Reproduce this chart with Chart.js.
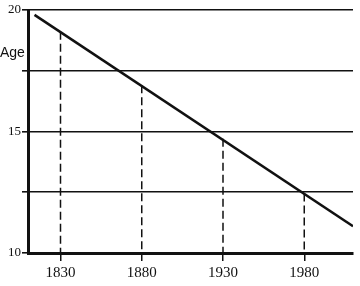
<!DOCTYPE html>
<html>
<head>
<meta charset="utf-8">
<script src="https://cdn.jsdelivr.net/npm/chart.js@4/dist/chart.umd.min.js"></script>
<style>
  html, body { margin: 0; padding: 0; background: #fff; }
  #wrap { position: relative; width: 360px; height: 286px; }
  #age { position: absolute; left: 0px; top: 44px; font: 14px "Liberation Sans", Arial, sans-serif; color: #111; }
</style>
</head>
<body>
<div id="wrap">
  <canvas id="c" width="360" height="286"></canvas>
  <div id="age">Age</div>
</div>
<script>
// Trend line endpoints
const lineYears = [1814, 2010];
const lineAges = [19.8, 11.1];
// Marked years and the age
const markYears = [1830, 1880, 1930, 1980];
const markAges = [19.1, 16.9, 14.7, 12.45];
// Axis settings
const yMin = 10, yMax = 20, yStep = 2.5;
const yLabelled = [10, 15, 20];
const xMin = 1810, xMax = 2010;

const datasets = [];
datasets.push({
  data: lineYears.map((x, i) => ({ x, y: lineAges[i] })),
  borderColor: '#111', borderWidth: 2.5, pointRadius: 0, showLine: true
});
markYears.forEach((yr, i) => {
  datasets.push({
    data: [{ x: yr, y: markAges[i] }, { x: yr, y: yMin }],
    borderColor: '#111', borderWidth: 1.5, borderDash: [8, 4],
    pointRadius: 0, showLine: true
  });
});

new Chart(document.getElementById('c'), {
  type: 'scatter',
  data: { datasets },
  options: {
    responsive: false,
    animation: false,
    layout: { padding: { top: 10, right: 7, left: 0, bottom: 0 } },
    plugins: { legend: { display: false }, tooltip: { enabled: false } },
    scales: {
      x: {
        type: 'linear', min: xMin, max: xMax,
        afterBuildTicks: s => { s.ticks = markYears.map(v => ({ value: v })); },
        afterFit: s => { s.height = 33; },
        border: { display: true, color: '#111', width: 3 },
        grid: { drawOnChartArea: false, drawTicks: true, tickLength: 8, color: '#111', lineWidth: 1.5 },
        ticks: { color: '#111', padding: 3, font: { family: '"Liberation Serif", "DejaVu Serif", serif', size: 15 }, maxRotation: 0,
                 callback: v => String(v) }
      },
      y: {
        type: 'linear', min: yMin, max: yMax,
        afterBuildTicks: s => {
          const t = [];
          for (let v = yMin; v <= yMax + 1e-9; v += yStep) t.push({ value: v });
          s.ticks = t;
        },
        afterFit: s => { s.width = 28; },
        border: { display: true, color: '#111', width: 3 },
        grid: { color: '#111', lineWidth: 1.6, tickLength: 6, drawTicks: true },
        ticks: { color: '#111', padding: 1, font: { family: '"Liberation Serif", "DejaVu Serif", serif', size: 13 },
                 callback: v => yLabelled.includes(v) ? String(v) : '' }
      }
    }
  }
});
</script>
</body>
</html>
